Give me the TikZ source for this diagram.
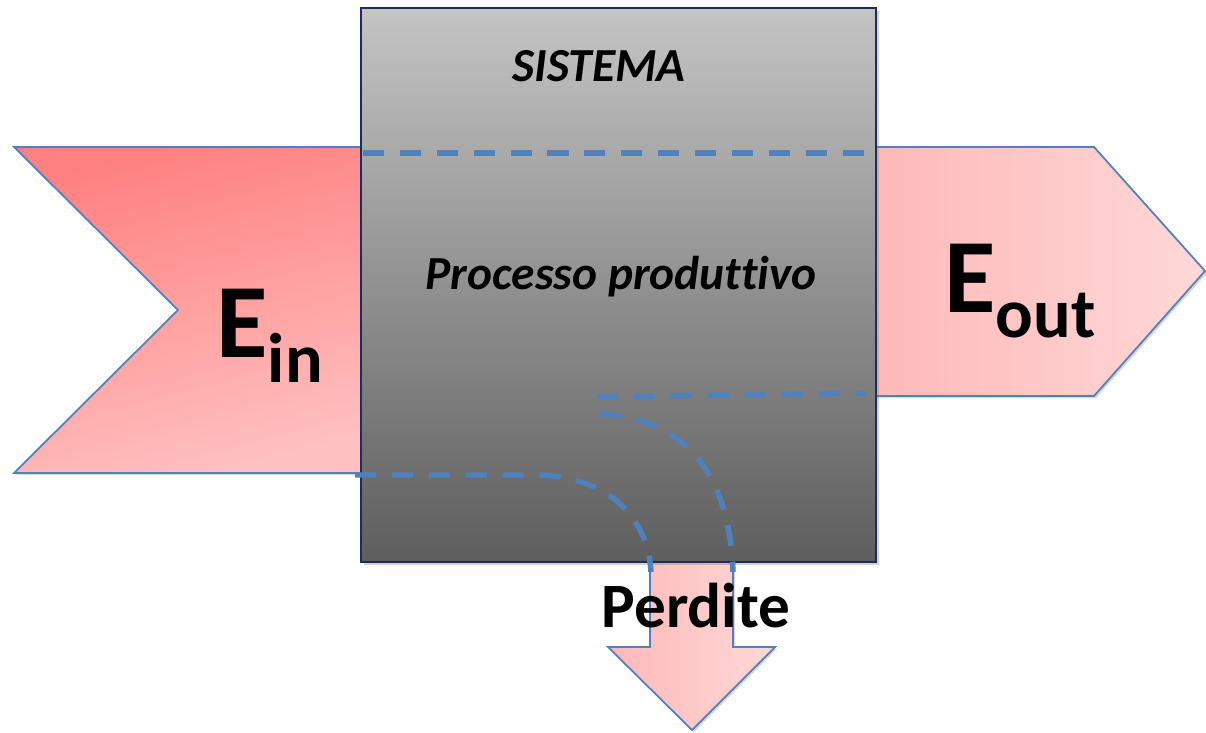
\documentclass[tikz,border=0pt]{standalone}
\usepackage{fontspec}
\setmainfont[Ligatures=NoCommon]{Carlito}
\usetikzlibrary{shadows}

\definecolor{edgeblue}{RGB}{79,129,189}
\definecolor{boxedge}{RGB}{27,45,94}
\definecolor{pinkdeep}{RGB}{255,128,128}
\definecolor{pinkmid}{RGB}{255,184,184}
\definecolor{pinklight}{RGB}{255,216,216}
\definecolor{greytop}{RGB}{196,196,196}
\definecolor{greybot}{RGB}{94,94,94}

\tikzset{
  flow/.style={draw=edgeblue, line width=1pt, line join=miter,
    drop shadow={shadow xshift=1.2pt, shadow yshift=-1.2pt, opacity=0.3}},
  sysbox/.style={draw=boxedge, line width=1.4pt, top color=greytop, bottom color=greybot,
    drop shadow={shadow xshift=1.5pt, shadow yshift=-1.5pt, opacity=0.35}},
  pathline/.style={draw=edgeblue, line width=3.1pt, dash pattern=on 12pt off 9pt},
  bigE/.style={inner sep=0pt, anchor=base west, font=\fontsize{60}{60}\selectfont\bfseries},
  label/.style={inner sep=0pt, anchor=base, font=\fontsize{27}{27}\selectfont\bfseries\itshape}
}
\newcommand{\subtxt}[1]{\raisebox{-0.52cm}{\fontsize{40}{40}\selectfont\bfseries #1}}

\begin{document}
\begin{tikzpicture}[x=0.02cm, y=-0.02cm]
  \useasboundingbox (0,0) rectangle (1206,733);

  % incoming energy (notched arrow)
  \path[flow, top color=pinkdeep, bottom color={rgb,255:red,255;green,192;blue,192}, shading angle=15]
    (14,147) -- (365,147) -- (365,473) -- (14,473) -- (178,310) -- cycle;

  % outgoing energy (pentagon arrow)
  \path[flow, left color=pinkmid, right color=pinklight]
    (870,147) -- (1094,147) -- (1205,271) -- (1094,396) -- (870,396) -- cycle;

  % losses (downward arrow)
  \path[flow, left color=pinkmid, right color=pinklight]
    (650,556) -- (650,647) -- (608,647) -- (692,730) -- (775,647) -- (733,647) -- (733,556) -- cycle;

  % the system
  \path[sysbox] (361,8) rectangle (876,562);
  \node (box) at (618.5,285) {};

  % energy paths through the system
  \draw[pathline] (363,153) -- (870,153);
  \draw[pathline] (597,397) -- (865,393);
  \draw[pathline] (355,475) -- (540,475) .. controls (612,478) and (648,520) .. (651,572);
  \draw[pathline] (600,414) .. controls (688,418) and (730,478) .. (733,572);

  % texts
  \node[label] (sys) at (599,82) {SISTEMA};
  \node[label] (proc) at (621,289) {Processo produttivo};
  \node[bigE] (ein) at (216,357) {E\subtxt{in}};
  \node[bigE] (eout) at (944,312) {E\subtxt{out}};
  \node[inner sep=0pt, anchor=base, font=\fontsize{36}{36}\selectfont\bfseries] (loss) at (696,627) {Perdite};
\end{tikzpicture}
\end{document}
